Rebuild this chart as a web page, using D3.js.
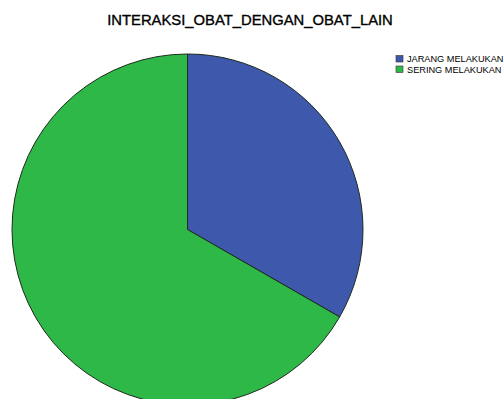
<!DOCTYPE html>
<html>
<head>
<meta charset="utf-8">
<script src="https://cdn.jsdelivr.net/npm/d3@7"></script>
<style>
  html, body { margin: 0; padding: 0; background: #fff; overflow: hidden; }
  svg { display: block; }
</style>
</head>
<body>
<svg id="chart" width="504" height="399"></svg>
<script>
// Categories and their shares (percent)
const categories = ["JARANG MELAKUKAN", "SERING MELAKUKAN"];
const values = [33.3, 66.7];
const colors = ["#3e58ac", "#2eb848"];
const title = "INTERAKSI_OBAT_DENGAN_OBAT_LAIN";

const svg = d3.select("#chart");
const W = 504, H = 399;

svg.append("rect").attr("width", W).attr("height", H).attr("fill", "#fff");

// Title
svg.append("text")
  .attr("x", 250)
  .attr("y", 25)
  .attr("text-anchor", "middle")
  .attr("font-family", "Liberation Sans, Arial, sans-serif")
  .attr("font-size", "14.8px")
  .attr("fill", "#000")
  .attr("stroke", "#000")
  .attr("stroke-width", 0.35)
  .text(title);

// Pie
const cx = 187.5, cy = 229.5, r = 175.5;
const data = categories.map((c, i) => ({ name: c, value: values[i], color: colors[i] }));
const pie = d3.pie().sort(null).value(d => d.value);
const arc = d3.arc().innerRadius(0).outerRadius(r);

svg.append("g")
  .attr("transform", `translate(${cx},${cy})`)
  .selectAll("path")
  .data(pie(data))
  .join("path")
  .attr("d", arc)
  .attr("fill", d => d.data.color)
  .attr("stroke", "#1e2a1e")
  .attr("stroke-width", 1);

// Legend
const legend = svg.append("g").attr("transform", "translate(396,55.5)");
const rows = legend.selectAll("g")
  .data(data)
  .join("g")
  .attr("transform", (d, i) => `translate(0,${i * 10.5})`);
rows.append("rect")
  .attr("width", 7).attr("height", 6.5)
  .attr("fill", d => d.color)
  .attr("stroke", "#333").attr("stroke-width", 0.6);
rows.append("text")
  .attr("x", 11).attr("y", 6.7)
  .attr("font-family", "Liberation Sans, Arial, sans-serif")
  .attr("font-size", "9.2px")
  .attr("fill", "#000")
  .text(d => d.name);
</script>
</body>
</html>
